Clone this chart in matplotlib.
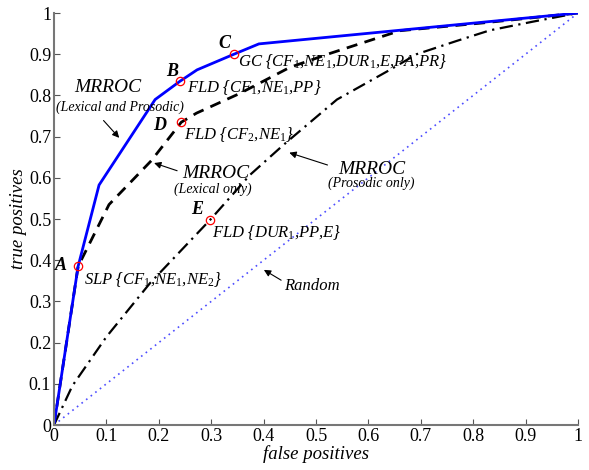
import numpy as np
import matplotlib.pyplot as plt

plt.rcParams['font.family'] = 'Liberation Serif'
plt.rcParams['mathtext.fontset'] = 'custom'
plt.rcParams['mathtext.rm'] = 'Liberation Serif'
plt.rcParams['mathtext.it'] = 'Liberation Serif:italic'
plt.rcParams['mathtext.bf'] = 'Liberation Serif:bold:italic'
plt.rcParams['mathtext.default'] = 'it'

# ROC curves
lexpros_fp = [0, 0.046, 0.086, 0.193, 0.240, 0.273, 0.3435, 0.391, 1.0]
lexpros_tp = [0, 0.385, 0.5825, 0.79, 0.834, 0.862, 0.90, 0.925, 1.0]

lex_fp = [0, 0.046, 0.105, 0.186, 0.243, 0.272, 0.355, 0.45, 0.527, 0.66, 0.819, 1.0]
lex_tp = [0, 0.385, 0.535, 0.642, 0.735, 0.757, 0.805, 0.868, 0.902, 0.957, 0.976, 1.0]

pros_fp = [0, 0.035, 0.1, 0.183, 0.298, 0.374, 0.438, 0.54, 0.641, 0.692, 0.768, 0.832, 0.914, 1.0]
pros_tp = [0, 0.095, 0.214, 0.344, 0.498, 0.607, 0.68, 0.79, 0.862, 0.9, 0.932, 0.958, 0.979, 1.0]

rand_fp = [0, 1]
rand_tp = [0, 1]

# operating points A..E
pt_names = ['A', 'B', 'C', 'D', 'E']
pt_fp = [0.046, 0.240, 0.3435, 0.243, 0.298]
pt_tp = [0.385, 0.834, 0.90, 0.735, 0.498]
pt_labels = [r'SLP {CF$_1$,NE$_1$,NE$_2$}',
             r'FLD {CF$_1$,NE$_1$,PP}',
             r'GC {CF$_1$,NE$_1$,DUR$_1$,E,PA,PR}',
             r'FLD {CF$_2$,NE$_1$}',
             r'FLD {DUR$_1$,PP,E}']
name_pos = [(0.013, 0.388), (0.225, 0.857), (0.326, 0.927), (0.202, 0.726), (0.273, 0.522)]
label_pos = [(0.057, 0.352), (0.254, 0.82), (0.351, 0.881), (0.248, 0.704), (0.302, 0.468)]

fig = plt.figure(figsize=(5.89, 4.70), dpi=100)
ax = fig.add_axes([54 / 589, 1 - 425 / 470, 524 / 589, 412 / 470])

ax.plot(rand_fp, rand_tp, color='#4d4dff', linestyle=(0, (1, 2.5)), linewidth=1.2)
ax.plot(pros_fp, pros_tp, color='black', linestyle=(0, (6, 2.5, 1, 2.5)), linewidth=1.6)
ax.plot(lex_fp, lex_tp, color='black', linestyle='--', linewidth=2.0, dashes=(4, 2.7))
ax.plot(lexpros_fp, lexpros_tp, color='blue', linewidth=2.0)
ax.plot(pt_fp, pt_tp, 'o', markerfacecolor='none', markeredgecolor='red',
        markersize=6, markeredgewidth=0.9)

for name, (nx, ny), lab, (lx, ly) in zip(pt_names, name_pos, pt_labels, label_pos):
    ax.text(nx, ny, name, fontsize=13, fontweight='bold', style='italic',
            ha='center', va='center')
    ax.text(lx, ly, lab, fontsize=12, style='italic', ha='left', va='center')

# curve annotations
arrow = dict(arrowstyle='-|>', color='black', linewidth=0.8, mutation_scale=10)
ax.text(0.103, 0.818, 'MRROC', fontsize=14, style='italic', ha='center', va='center')
ax.text(0.126, 0.772, '(Lexical and Prosodic)', fontsize=10, style='italic',
        ha='center', va='center')
ax.annotate('', xy=(0.128, 0.692), xytext=(0.091, 0.744), arrowprops=arrow)

ax.text(0.309, 0.611, 'MRROC', fontsize=14, style='italic', ha='center', va='center')
ax.text(0.304, 0.572, '(Lexical only)', fontsize=10, style='italic',
        ha='center', va='center')
ax.annotate('', xy=(0.186, 0.638), xytext=(0.24, 0.615), arrowprops=arrow)

ax.text(0.606, 0.621, 'MRROC', fontsize=14, style='italic', ha='center', va='center')
ax.text(0.606, 0.587, '(Prosodic only)', fontsize=10, style='italic',
        ha='center', va='center')
ax.annotate('', xy=(0.444, 0.663), xytext=(0.527, 0.629), arrowprops=arrow)

ax.text(0.492, 0.338, 'Random', fontsize=12, style='italic', ha='center', va='center')
ax.annotate('', xy=(0.396, 0.38), xytext=(0.438, 0.348), arrowprops=arrow)

ax.set_xlim(0, 1)
ax.set_ylim(0, 1)
ticks = np.round(np.arange(0, 1.01, 0.1), 1)
ax.set_xticks(ticks)
ax.set_yticks(ticks)
ax.set_xticklabels(['0'] + [f'{t:g}' for t in ticks[1:-1]] + ['1'])
ax.set_yticklabels(['0'] + [f'{t:g}' for t in ticks[1:-1]] + ['1'])
ax.tick_params(direction='in', length=4, labelsize=13, color='#555555', pad=2)
for s in ['top', 'right']:
    ax.spines[s].set_visible(False)
for s in ['left', 'bottom']:
    ax.spines[s].set_color('#777777')
    ax.spines[s].set_linewidth(1.5)
ax.set_xlabel('false positives', fontsize=13.5, style='italic', labelpad=0)
ax.set_ylabel('true positives', fontsize=13.5, style='italic', labelpad=1)

fig.savefig('out.png', dpi=100)
